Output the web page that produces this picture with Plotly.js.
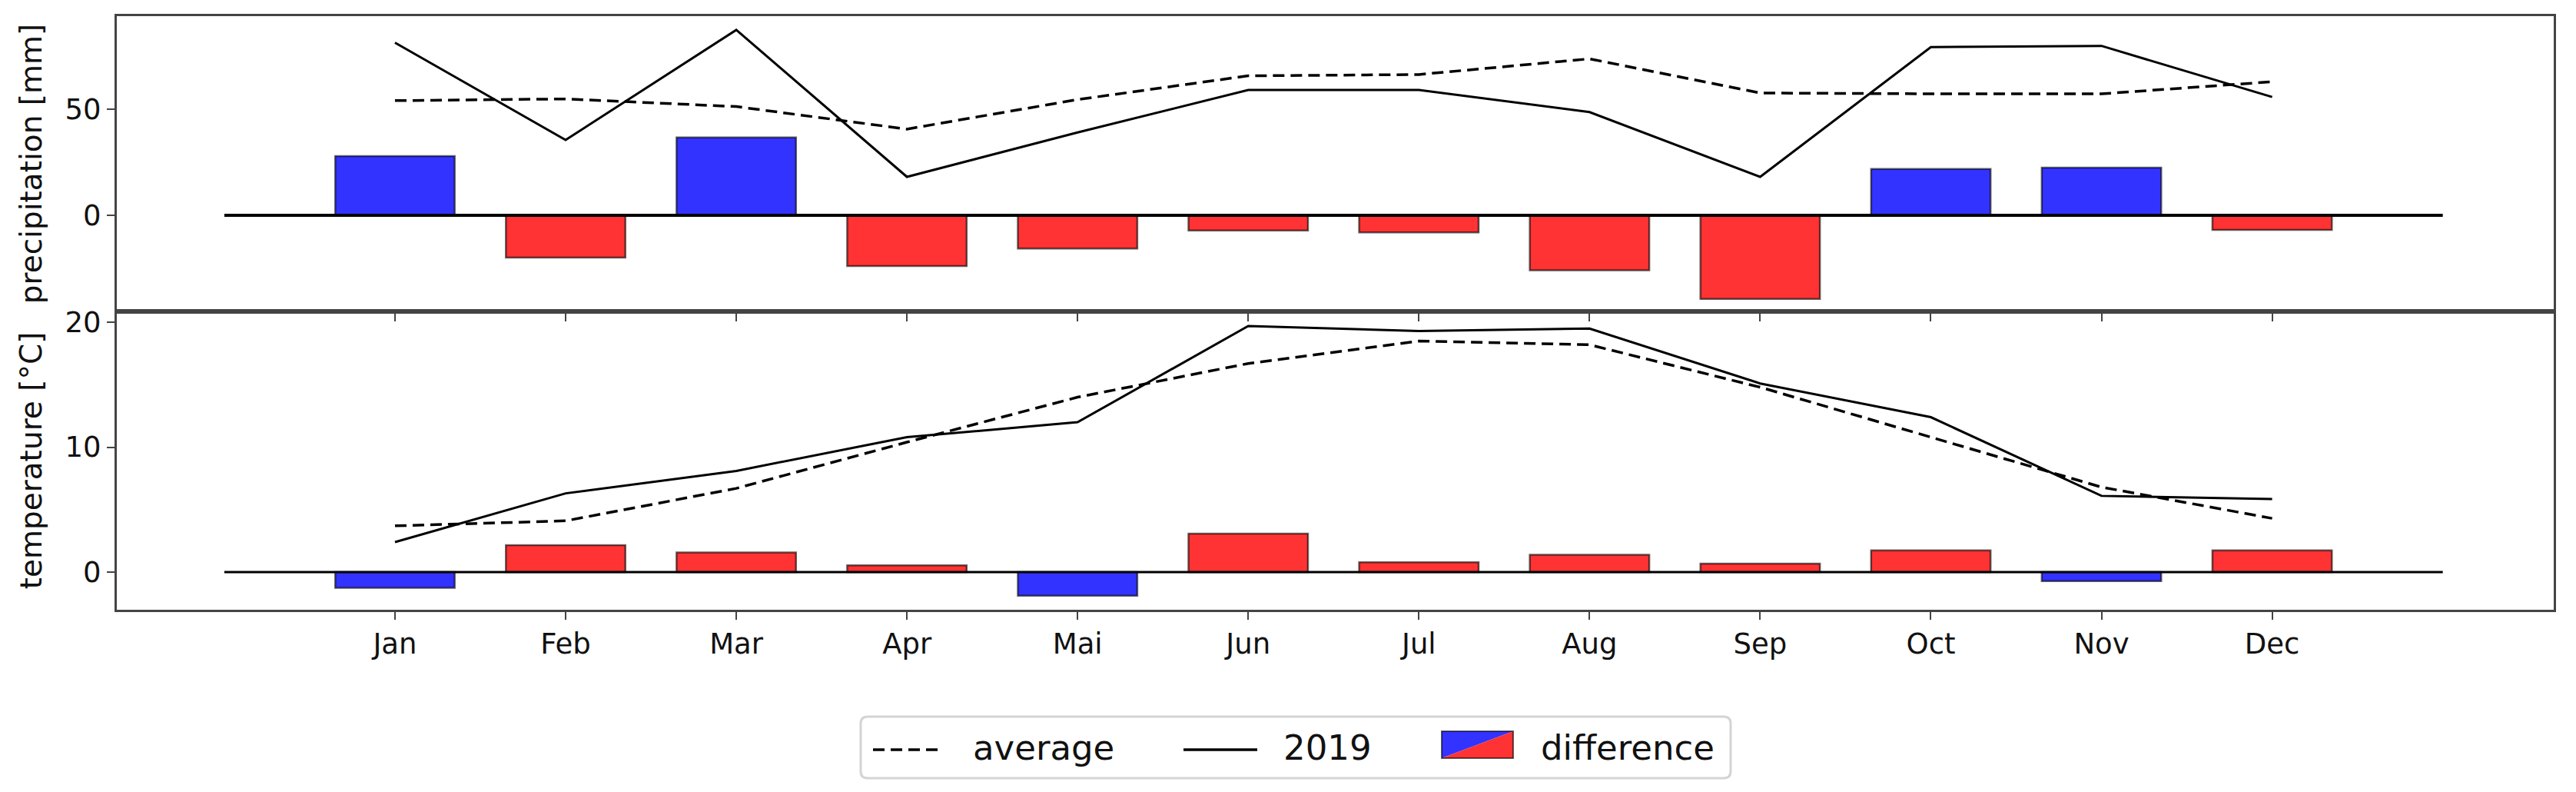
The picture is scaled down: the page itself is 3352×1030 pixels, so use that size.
<!DOCTYPE html>
<html>
<head>
<meta charset="utf-8">
<script src="https://cdn.plot.ly/plotly-3.0.1.min.js"></script>
<style>html,body{margin:0;padding:0;background:#fff;}#chart{width:3352px;height:1030px;}</style>
</head>
<body>
<div id="chart"></div>
<script>
// ---------------- data ----------------
const months = ['Jan','Feb','Mar','Apr','Mai','Jun','Jul','Aug','Sep','Oct','Nov','Dec'];
const precipAvg  = [54.0, 54.8, 51.2, 40.6, 54.5, 65.7, 66.3, 73.7, 57.6, 57.2, 57.2, 62.9];
const precip2019 = [81.3, 35.5, 87.3, 18.1, 39.0, 59.0, 59.0, 48.6, 18.1, 79.2, 79.8, 55.7];
const precipDiff = [27.9, -19.9, 36.7, -23.9, -15.7, -7.2, -8.1, -25.9, -39.4, 21.8, 22.4, -6.9];
const tempAvg  = [3.7, 4.1, 6.7, 10.4, 14.0, 16.7, 18.5, 18.2, 14.8, 10.8, 6.8, 4.3];
const temp2019 = [2.4, 6.3, 8.1, 10.8, 12.0, 19.7, 19.3, 19.5, 15.1, 12.4, 6.1, 5.85];
const tempDiff = [-1.27, 2.15, 1.56, 0.53, -1.89, 3.08, 0.78, 1.39, 0.68, 1.74, -0.72, 1.74];
const precipTicks = [0, 50];
const tempTicks = [0, 10, 20];
const zeroSpan = [-1, 12];
const legendLabels = ['average', '2019', 'difference'];

// ---------------- layout constants ----------------
const W = 3352, H = 1030;
const mL = 152, mR = 29, mT = 21, mB = 237;
const midPx = 405;
const plotW = W - mL - mR, plotH = H - mT - mB;
const px2x = p => (p - mL) / plotW;
const px2y = p => (H - mB - p) / plotH;
const FONT = 'DejaVu Sans, Liberation Sans, sans-serif';
const BLUE = 'rgb(51,51,255)', RED = 'rgb(255,51,51)';
const EDGE = 'rgba(0,0,0,0.6)';
const DASH = '15px,8px';

const xIdx = months.map((m, i) => i);
const precipColors = precipDiff.map(v => v >= 0 ? BLUE : RED);
const tempColors = tempDiff.map(v => v >= 0 ? RED : BLUE);

const traces = [
  {type:'bar', x:xIdx, y:precipDiff, xaxis:'x', yaxis:'y', width:0.7,
   marker:{color:precipColors, line:{color:EDGE, width:2.5}}, showlegend:false, hoverinfo:'y'},
  {type:'scatter', mode:'lines', x:zeroSpan, y:[0,0], xaxis:'x', yaxis:'y',
   line:{color:'#000', width:4}, showlegend:false, hoverinfo:'skip'},
  {type:'scatter', mode:'lines', x:xIdx, y:precipAvg, xaxis:'x', yaxis:'y', name:legendLabels[0],
   line:{color:'#000', width:3.5, dash:DASH}, showlegend:false},
  {type:'scatter', mode:'lines', x:xIdx, y:precip2019, xaxis:'x', yaxis:'y', name:legendLabels[1],
   line:{color:'#000', width:3}, showlegend:false},

  {type:'bar', x:xIdx, y:tempDiff, xaxis:'x2', yaxis:'y2', width:0.7,
   marker:{color:tempColors, line:{color:EDGE, width:2.5}}, showlegend:false, hoverinfo:'y'},
  {type:'scatter', mode:'lines', x:zeroSpan, y:[0,0], xaxis:'x2', yaxis:'y2',
   line:{color:'#000', width:3}, showlegend:false, hoverinfo:'skip'},
  {type:'scatter', mode:'lines', x:xIdx, y:tempAvg, xaxis:'x2', yaxis:'y2', name:legendLabels[0],
   line:{color:'#000', width:3.5, dash:DASH}, showlegend:false},
  {type:'scatter', mode:'lines', x:xIdx, y:temp2019, xaxis:'x2', yaxis:'y2', name:legendLabels[1],
   line:{color:'#000', width:3}, showlegend:false}
];

const axisCommon = {
  showline:true, linecolor:'#444', linewidth:3, mirror:true,
  ticks:'outside', ticklen:10, tickwidth:2, tickcolor:'#444',
  showgrid:false, zeroline:false, automargin:false,
  tickfont:{family:FONT, size:37, color:'#111'}
};
const topFrac = 1 - (midPx - mT) / plotH;
const xRange = [-1.63, 12.65];

// rounded legend box path (in paper coords)
function roundRect(x0, y0, x1, y1, r) {
  const X = px2x, Y = px2y;
  return `M ${X(x0+r)},${Y(y0)} L ${X(x1-r)},${Y(y0)} Q ${X(x1)},${Y(y0)} ${X(x1)},${Y(y0+r)} ` +
         `L ${X(x1)},${Y(y1-r)} Q ${X(x1)},${Y(y1)} ${X(x1-r)},${Y(y1)} ` +
         `L ${X(x0+r)},${Y(y1)} Q ${X(x0)},${Y(y1)} ${X(x0)},${Y(y1-r)} ` +
         `L ${X(x0)},${Y(y0+r)} Q ${X(x0)},${Y(y0)} ${X(x0+r)},${Y(y0)} Z`;
}
const lgY = 975;
const patch = {x0:1876, x1:1969, y0:951, y1:986};
const shapes = [
  {type:'path', xref:'paper', yref:'paper', path:roundRect(1120, 932, 2252, 1012, 9),
   line:{color:'#d4d4d4', width:3}, fillcolor:'rgba(255,255,255,0.9)', layer:'above'},
  {type:'line', xref:'paper', yref:'paper', x0:px2x(1136), x1:px2x(1221), y0:px2y(lgY), y1:px2y(lgY),
   line:{color:'#000', width:3.5, dash:DASH}},
  {type:'line', xref:'paper', yref:'paper', x0:px2x(1540), x1:px2x(1636), y0:px2y(lgY), y1:px2y(lgY),
   line:{color:'#000', width:3.5}},
  {type:'path', xref:'paper', yref:'paper',
   path:`M ${px2x(patch.x0)},${px2y(patch.y0)} L ${px2x(patch.x1)},${px2y(patch.y0)} L ${px2x(patch.x0)},${px2y(patch.y1)} Z`,
   fillcolor:BLUE, line:{width:0}},
  {type:'path', xref:'paper', yref:'paper',
   path:`M ${px2x(patch.x1)},${px2y(patch.y0)} L ${px2x(patch.x1)},${px2y(patch.y1)} L ${px2x(patch.x0)},${px2y(patch.y1)} Z`,
   fillcolor:RED, line:{width:0}},
  {type:'rect', xref:'paper', yref:'paper', x0:px2x(patch.x0), x1:px2x(patch.x1), y0:px2y(patch.y0), y1:px2y(patch.y1),
   line:{color:EDGE, width:2}}
];
const lgFont = {family:FONT, size:45, color:'#111'};
const annotations = [
  {xref:'paper', yref:'paper', x:px2x(1264), y:px2y(972), text:legendLabels[0], showarrow:false, xanchor:'left', yanchor:'middle', font:lgFont},
  {xref:'paper', yref:'paper', x:px2x(1668), y:px2y(972), text:legendLabels[1], showarrow:false, xanchor:'left', yanchor:'middle', font:lgFont},
  {xref:'paper', yref:'paper', x:px2x(2003), y:px2y(972), text:legendLabels[2], showarrow:false, xanchor:'left', yanchor:'middle', font:lgFont}
];

const layout = {
  width:W, height:H,
  margin:{l:mL, r:mR, t:mT, b:mB},
  paper_bgcolor:'#fff', plot_bgcolor:'#fff',
  font:{family:FONT, color:'#111'},
  showlegend:false,
  barmode:'overlay',
  xaxis:Object.assign({}, axisCommon, {anchor:'y', domain:[0,1], range:xRange, tickvals:xIdx, showticklabels:false}),
  yaxis:Object.assign({}, axisCommon, {anchor:'x', domain:[topFrac,1], range:[-45.3, 93.8], tickvals:precipTicks,
    title:{text:'precipitation [mm]', font:{family:FONT, size:39, color:'#111'}, standoff:18}}),
  xaxis2:Object.assign({}, axisCommon, {anchor:'y2', domain:[0,1], range:xRange, tickvals:xIdx, ticktext:months}),
  yaxis2:Object.assign({}, axisCommon, {anchor:'x2', domain:[0,topFrac], range:[-3.02, 20.87], tickvals:tempTicks,
    title:{text:'temperature [°C]', font:{family:FONT, size:39, color:'#111'}, standoff:18}}),
  shapes:shapes,
  annotations:annotations
};

Plotly.newPlot('chart', traces, layout, {staticPlot:true, displayModeBar:false});
</script>
</body>
</html>
